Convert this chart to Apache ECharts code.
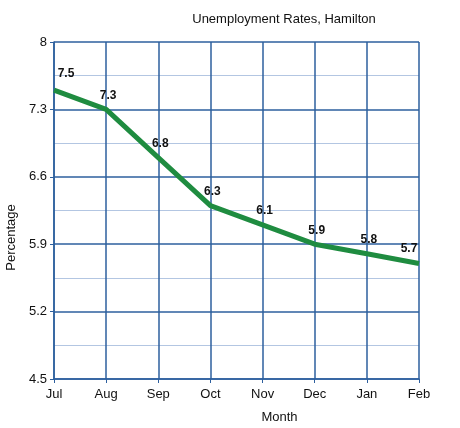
<!DOCTYPE html>
<html>
<head>
<meta charset="utf-8">
<script src="https://cdn.jsdelivr.net/npm/echarts@6/dist/echarts.min.js"></script>
<style>
  html, body { margin: 0; padding: 0; background: #fff; }
  #chart { width: 460px; height: 428px; }
</style>
</head>
<body>
<div id="chart"></div>
<script>
// 数据
var months = ['Jul', 'Aug', 'Sep', 'Oct', 'Nov', 'Dec', 'Jan', 'Feb'];
var rates = [7.5, 7.3, 6.8, 6.3, 6.1, 5.9, 5.8, 5.7];

var FONT = 'Liberation Sans, Arial, Helvetica, sans-serif';
var darkBlue = '#2d5f9e';
var lightBlue = '#b3c6e2';

var chart = echarts.init(document.getElementById('chart'), null, { renderer: 'canvas' });

// 首尾两个标签挪一下，不然会贴边
var seriesData = rates.map(function (v, i) {
    var off = [2, -1];
    if (i === 0) off = [12, -3];
    if (i === rates.length - 1) off = [-10, -2];
    return { value: v, label: { offset: off } };
});

chart.setOption({
    animation: false,
    title: {
        text: 'Unemployment Rates, Hamilton',
        left: 279,
        textAlign: 'center',
        top: 8,
        textStyle: { fontFamily: FONT, fontSize: 13, fontWeight: 'normal', color: '#111' }
    },
    // v6 默认会把标签挤进容器，这里关掉
    grid: { left: 54, right: 41, top: 42, bottom: 49, outerBoundsMode: 'none', containLabel: false },
    xAxis: {
        type: 'category',
        data: months,
        boundaryGap: false,
        name: 'Month',
        nameLocation: 'middle',
        nameGap: 32,
        nameTextStyle: { fontFamily: FONT, fontSize: 13, color: '#111', padding: [0, 0, 0, 86] },
        axisLine: { lineStyle: { color: darkBlue, width: 1.5 } },
        axisTick: { show: true, alignWithLabel: true, length: 4, lineStyle: { color: darkBlue } },
        axisLabel: { fontFamily: FONT, fontSize: 13, color: '#111', margin: 9 },
        splitLine: { show: true, lineStyle: { color: darkBlue, width: 1.5 } }
    },
    yAxis: {
        type: 'value',
        min: 4.5,
        max: 8,
        interval: 0.7,
        name: 'Percentage',
        nameLocation: 'middle',
        nameGap: 36,
        nameTextStyle: { fontFamily: FONT, fontSize: 13, color: '#111', padding: [0, 54, 0, 0] },
        axisLine: { show: true, lineStyle: { color: darkBlue, width: 1.5 } },
        axisTick: { show: true, length: 4, lineStyle: { color: darkBlue } },
        axisLabel: { fontFamily: FONT, fontSize: 13, color: '#111', margin: 7 },
        splitLine: { show: true, lineStyle: { color: darkBlue, width: 1.5 } },
        minorTick: { show: false, splitNumber: 2 },
        minorSplitLine: { show: true, lineStyle: { color: lightBlue, width: 1.2 } }
    },
    series: [{
        type: 'line',
        data: seriesData,
        symbol: 'circle',
        symbolSize: 2,
        showSymbol: true,
        itemStyle: { color: 'rgba(31,140,64,0)', borderWidth: 0 },
        lineStyle: { color: '#1f8c40', width: 5 },
        label: {
            show: true,
            position: 'top',
            distance: 6,
            fontFamily: FONT,
            fontSize: 12,
            fontWeight: 'bold',
            color: '#111'
        }
    }]
});
</script>
</body>
</html>
